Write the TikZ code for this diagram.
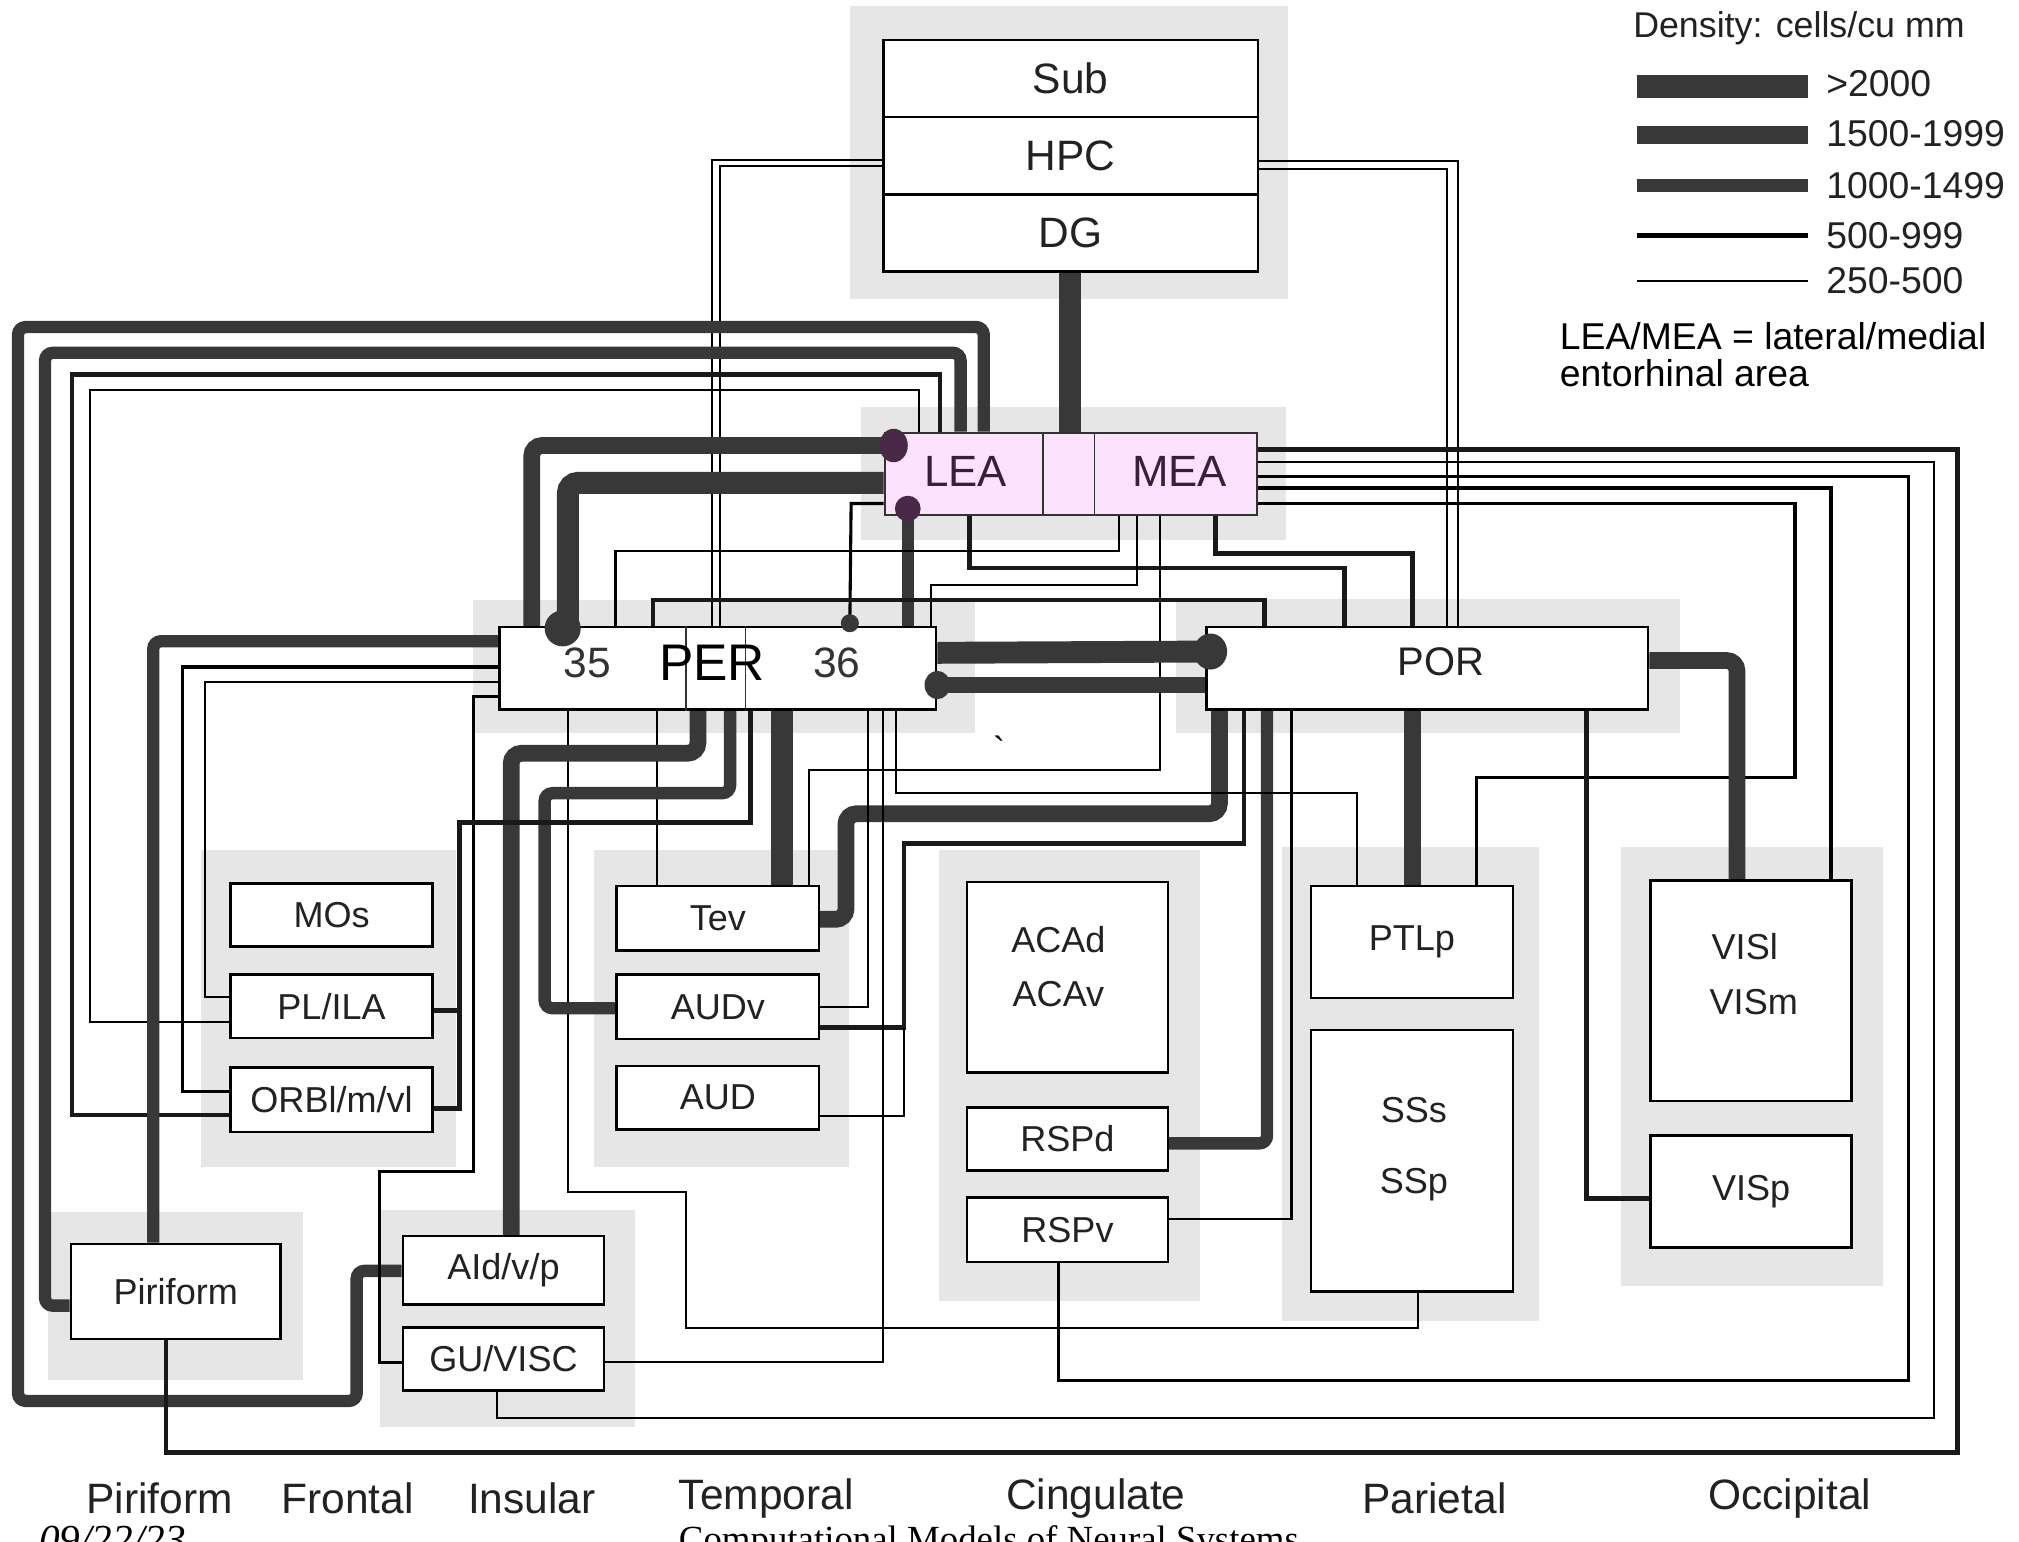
\documentclass[tikz,border=0pt]{standalone}
\usepackage{fontspec}
\setmainfont{Liberation Sans}
\newfontfamily\footserif{Liberation Serif}
\pgfdeclarelayer{back}
\pgfdeclarelayer{lines}
\pgfdeclarelayer{front}
\pgfsetlayers{back,lines,main,front}
\definecolor{thickc}{HTML}{383838}
\definecolor{grp}{HTML}{E6E6E6}
\definecolor{entfill}{HTML}{FBE4FB}
\definecolor{entdot}{HTML}{4A2848}
\definecolor{enttext}{HTML}{3A1F3A}
\definecolor{boxtext}{HTML}{222222}
\tikzset{
  box/.style={draw=black, line width=1pt, fill=white, inner sep=0pt, text=boxtext, font=\fontsize{14}{16}\selectfont},
  sbox/.style={box, minimum width=78.5pt, minimum height=24.5pt},
  lab/.style={inner sep=0pt, text=boxtext, font=\fontsize{14}{16}\selectfont},
  big/.style={inner sep=0pt, text=boxtext, font=\fontsize{16.5}{18}\selectfont},
  wa/.style={line width=0.8pt, draw=black},
  wb/.style={line width=1.2pt, draw=black},
  wc/.style={line width=1.8pt, draw=black!90},
  wd/.style={line width=4.8pt, draw=thickc, rounded corners=3pt},
  we/.style={line width=6.5pt, draw=thickc, rounded corners=4pt},
  wf/.style={line width=8.5pt, draw=thickc, rounded corners=4pt},
  divider/.style={line width=0.7pt, draw=black!80},
}
\begin{document}
\begin{tikzpicture}[x=0.5pt,y=-0.5pt]
\useasboundingbox (0,0) rectangle (1568,1197);
\begin{pgfonlayer}{back}
\fill[white] (0,0) rectangle (1568,1197);
\fill[grp] (660,5) rectangle (1000,232);
\fill[grp] (669,316) rectangle (999,419);
\fill[grp] (367,466) rectangle (757,569);
\fill[grp] (913,465) rectangle (1305,569);
\fill[grp] (156,660) rectangle (354,906);
\fill[grp] (461,660) rectangle (659,906);
\fill[grp] (729,660) rectangle (932,1010);
\fill[grp] (996,658) rectangle (1195,1026);
\fill[grp] (1259,658) rectangle (1462,999);
\fill[grp] (37,941) rectangle (235,1072);
\fill[grp] (295,940) rectangle (493,1108);
\end{pgfonlayer}

% ---------- boxes ----------
\node[box, minimum width=145.5pt, minimum height=30pt, font=\fontsize{16.5}{18}\selectfont] (sub) at (831.5,61) {Sub};
\node[box, minimum width=145.5pt, minimum height=30pt, font=\fontsize{16.5}{18}\selectfont] (hpc) at (831.5,121) {HPC};
\node[box, minimum width=145.5pt, minimum height=30pt, font=\fontsize{16.5}{18}\selectfont] (dg) at (831.5,181) {DG};

\node[box, fill=entfill, draw=black!80, line width=0.8pt, minimum width=144.5pt, minimum height=32pt] (ent) at (831.5,368) {};
\draw[divider] (810,0 |- ent.north) -- (810,0 |- ent.south);
\draw[divider] (850,0 |- ent.north) -- (850,0 |- ent.south);
\node[inner sep=0pt, text=enttext, font=\fontsize{17}{19}\selectfont] (lealab) at (750,366) {LEA};
\node[inner sep=0pt, text=enttext, font=\fontsize{17}{19}\selectfont] (mealab) at (916,366) {MEA};

\node[box, minimum width=169.5pt, minimum height=32pt] (per) at (557.5,519) {};
\draw[divider] (533,0 |- per.north) -- (533,0 |- per.south);
\draw[divider] (579,0 |- per.north) -- (579,0 |- per.south);
\node[big, text=black!80] (t35) at (456,515) {35};
\node[big, text=black!80] (t36) at (650,515) {36};

\node[box, minimum width=171.5pt, minimum height=32pt] (por) at (1108.5,519) {};
\node[big, font=\fontsize{15.5}{17}\selectfont] (porlab) at (1119,514) {POR};

\node[sbox] (mos) at (257.5,710.5) {MOs};
\node[sbox] (pl) at (257.5,781.5) {PL/ILA};
\node[sbox, minimum height=25pt] (orb) at (257.5,854) {ORBl/m/vl};
\node[sbox, minimum height=25pt] (tev) at (557.5,713) {Tev};
\node[sbox, minimum height=25pt] (audv) at (557.5,782) {AUDv};
\node[sbox] (aud) at (557.5,852.5) {AUD};
\node[box, minimum width=78pt, minimum height=74pt] (aca) at (829,759) {};
\node[lab] (acad) at (822,730) {ACAd};
\node[lab] (acav) at (822,772) {ACAv};
\node[sbox, minimum width=78pt] (rspd) at (829,884.5) {RSPd};
\node[sbox, minimum width=78pt, minimum height=25pt] (rspv) at (829,955) {RSPv};
\node[box, minimum width=78.5pt, minimum height=43.5pt] (ptlp) at (1096.5,731.5) {PTLp};
\node[box, minimum width=78.5pt, minimum height=101.5pt] (ss) at (1096.5,901.5) {};
\node[lab] (sss) at (1098,862) {SSs};
\node[lab] (ssp) at (1098,920) {SSp};
\node[box, minimum width=78pt, minimum height=85.5pt] (visl) at (1360,769.5) {};
\node[lab] (visllab) at (1355,735) {VISl};
\node[lab] (vismlab) at (1362,778) {VISm};
\node[box, minimum width=78pt, minimum height=43.5pt] (visp) at (1360,925.5) {VISp};
\node[box, minimum width=81.5pt, minimum height=37pt] (pir) at (136.5,1003) {Piriform};
\node[box, minimum width=78pt, minimum height=26.5pt] (aid) at (391,986.5) {AId/v/p};
\node[sbox, minimum width=78pt] (gu) at (391,1055.5) {GU/VISC};

% ---------- dot coordinates ----------
\coordinate (dA) at (694,346);
\coordinate (dB) at (705,395);
\coordinate (dC) at (437,488);
\coordinate (dD) at (660,484);
\coordinate (dE) at (940,506);
\coordinate (dF) at (728,532);

% ---------- connectors ----------
\begin{pgfonlayer}{lines}
% hippocampus
\draw[wf] (831,0 |- dg.south) -- (831,0 |- ent.north);
\draw[wa] (hpc.west |- 0,124) -- (553,124) -- (553,0 |- per.north);
\draw[wa] (hpc.west |- 0,129) -- (559,129) -- (559,0 |- per.north);
\draw[wa] (hpc.east |- 0,125) -- (1132,125) -- (1132,0 |- por.north);
\draw[wa] (hpc.east |- 0,131) -- (1124,131) -- (1124,0 |- por.north);
% entorhinal top loops (left)
\draw[wd] (764,0 |- ent.north) -- (764,254) -- (14,254) -- (14,1088) -- (277,1088) -- (277,987) -- (aid.west |- 0,987);
\draw[wd] (746,0 |- ent.north) -- (746,274) -- (35,274) -- (35,1014) -- (pir.west |- 0,1014);
\draw[wc] (730,0 |- ent.north) -- (730,291) -- (56,291) -- (56,866) -- (orb.west |- 0,866);
\draw[wa] (714,0 |- ent.north) -- (714,303) -- (70,303) -- (70,794) -- (pl.west |- 0,794);
% entorhinal to PER
\draw[we] (dA) -- (413,346) -- (413,0 |- per.north);
\draw[wf] (ent.west |- 0,375) -- (441,375) -- (441,0 |- per.north);
\draw[wb] (ent.west |- 0,391) -- (661,391) -- (dD);
\draw[wd] (dB) -- (705,0 |- per.north);
% entorhinal bottom
\draw[wc] (753,0 |- ent.south) -- (753,441) -- (1044,441) -- (1044,0 |- por.north);
\draw[wa] (869,0 |- ent.south) -- (869,428) -- (478,428) -- (478,0 |- per.north);
\draw[wa] (883,0 |- ent.south) -- (883,454) -- (723,454) -- (723,0 |- per.north);
\draw[wa] (901,0 |- ent.south) -- (901,598) -- (628,598) -- (628,0 |- tev.north);
\draw[wc] (944,0 |- ent.south) -- (944,430) -- (1097,430) -- (1097,0 |- por.north);
% entorhinal right loops
\draw[wc] (ent.east |- 0,349) -- (1520,349) -- (1520,1128) -- (129,1128) -- (129,0 |- pir.south);
\draw[wa] (ent.east |- 0,359) -- (1502,359) -- (1502,1101) -- (386,1101) -- (386,0 |- gu.south);
\draw[wb] (ent.east |- 0,370) -- (1482,370) -- (1482,1072) -- (822,1072) -- (822,0 |- rspv.south);
\draw[wb] (ent.east |- 0,379) -- (1422,379) -- (1422,0 |- visl.north);
\draw[wb] (ent.east |- 0,391) -- (1394,391) -- (1394,604) -- (1147,604) -- (1147,0 |- ptlp.north);
% PER - POR
\draw[wf] (per.east |- 0,507) -- (dE);
\draw[we] (dF) -- (por.west |- 0,532);
\draw[wc] (507,0 |- per.north) -- (507,466) -- (982,466) -- (982,0 |- por.north);
% POR outputs
\draw[we] (947,0 |- por.south) -- (947,632) -- (657,632) -- (657,714) -- (tev.east |- 0,714);
\draw[wc] (966,0 |- por.south) -- (966,655) -- (702,655) -- (702,798) -- (audv.east |- 0,798);
\draw[wa] (702,798) -- (702,867) -- (aud.east |- 0,867);
\draw[wd] (984,0 |- por.south) -- (984,888) -- (rspd.east |- 0,888);
\draw[wa] (1003,0 |- por.south) -- (1003,947) -- (rspv.east |- 0,947);
\draw[we] (1097,0 |- por.south) -- (1097,0 |- ptlp.north);
\draw[wc] (1232,0 |- por.south) -- (1232,931) -- (visp.west |- 0,931);
\draw[we] (por.east |- 0,513) -- (1349,513) -- (1349,0 |- visl.north);
% PER left
\draw[wd] (per.west |- 0,498) -- (119,498) -- (119,0 |- pir.north);
\draw[wb] (per.west |- 0,518) -- (142,518) -- (142,848) -- (orb.west |- 0,848);
\draw[wa] (per.west |- 0,530) -- (159,530) -- (159,774) -- (pl.west |- 0,774);
\draw[wb] (per.west |- 0,541) -- (368,541) -- (368,910) -- (295,910) -- (295,1058) -- (gu.west |- 0,1058);
% PER bottom
\draw[wa] (441,0 |- per.south) -- (441,926) -- (533,926) -- (533,1031) -- (1101,1031) -- (1101,0 |- ss.south);
\draw[wa] (510,0 |- per.south) -- (510,0 |- tev.north);
\draw[we] (542,0 |- per.south) -- (542,585) -- (397,585) -- (397,0 |- aid.north);
\draw[wd] (567,0 |- per.south) -- (567,616) -- (423,616) -- (423,783) -- (audv.west |- 0,783);
\draw[wc] (583,0 |- per.south) -- (583,639) -- (357,639) -- (357,861) -- (orb.east |- 0,861);
\draw[wc] (357,785) -- (pl.east |- 0,785);
\draw[wf] (607,0 |- per.south) -- (607,0 |- tev.north);
\draw[wa] (674,0 |- per.south) -- (674,782) -- (audv.east |- 0,782);
\draw[wa] (686,0 |- per.south) -- (686,1058) -- (gu.east |- 0,1058);
\draw[wa] (696,0 |- per.south) -- (696,616) -- (1054,616) -- (1054,0 |- ptlp.north);
\end{pgfonlayer}

% ---------- dots and overlay text ----------
\begin{pgfonlayer}{front}
\fill[entdot] (dA) ellipse [x radius=5.5pt, y radius=6.5pt];
\fill[entdot] (dB) circle [radius=5pt];
\fill[thickc] (dC) circle [radius=7pt];
\fill[thickc] (dD) circle [radius=3.5pt];
\fill[thickc] (dE) ellipse [x radius=6.5pt, y radius=7pt];
\fill[thickc] (dF) ellipse [x radius=5pt, y radius=5.5pt];
\node[inner sep=0pt, text=black, font=\fontsize{20}{22}\selectfont] (perlab) at (553,515) {PER};
\end{pgfonlayer}
\node[inner sep=0pt, font=\fontsize{14}{16}\selectfont] (tick) at (776,582) {\textasciigrave};

% ---------- legend ----------
\node[lab, anchor=west, font=\fontsize{13.9}{16}\selectfont] (legtitle) at (1268,22) {Density: cells/cu mm};
\draw[line width=9pt, draw=thickc] (1271,67) -- (1404,67);
\draw[line width=7pt, draw=thickc] (1271,105) -- (1404,105);
\draw[line width=5pt, draw=thickc] (1271,144) -- (1404,144);
\draw[line width=1.8pt, draw=black] (1271,183) -- (1404,183);
\draw[line width=0.8pt, draw=black] (1271,218) -- (1404,218);
\node[lab, anchor=west, font=\fontsize{14.5}{16}\selectfont] (l1) at (1418,65) {>2000};
\node[lab, anchor=west, font=\fontsize{14.5}{16}\selectfont] (l2) at (1418,104) {1500-1999};
\node[lab, anchor=west, font=\fontsize{14.5}{16}\selectfont] (l3) at (1418,144) {1000-1499};
\node[lab, anchor=west, font=\fontsize{14.5}{16}\selectfont] (l4) at (1418,183) {500-999};
\node[lab, anchor=west, font=\fontsize{14.5}{16}\selectfont] (l5) at (1418,218) {250-500};
\node[inner sep=0pt, anchor=west, font=\fontsize{14.5}{16}\selectfont] (note1) at (1211,261) {LEA/MEA = lateral/medial};
\node[inner sep=0pt, anchor=west, font=\fontsize{14.5}{16}\selectfont] (note2) at (1211,290) {entorhinal area};

% ---------- region labels ----------
\node[big] (rpir) at (124,1164) {Piriform};
\node[big] (rfro) at (270,1164) {Frontal};
\node[big] (rins) at (413,1164) {Insular};
\node[big] (rtem) at (595,1164) {Temporal};
\node[big] (rcin) at (851,1164) {Cingulate};
\node[big] (rpar) at (1114,1164) {Parietal};
\node[big] (rocc) at (1390,1164) {Occipital};

% ---------- footer (cut off by the page edge) ----------
\node[inner sep=0pt, anchor=north west, font=\footserif\itshape\fontsize{16}{18}\selectfont] (fdate) at (30,1185) {09/22/23};
\node[inner sep=0pt, anchor=north, font=\footserif\fontsize{14.3}{16}\selectfont] (ftitle) at (768,1184) {Computational Models of Neural Systems};
\end{tikzpicture}
\end{document}
